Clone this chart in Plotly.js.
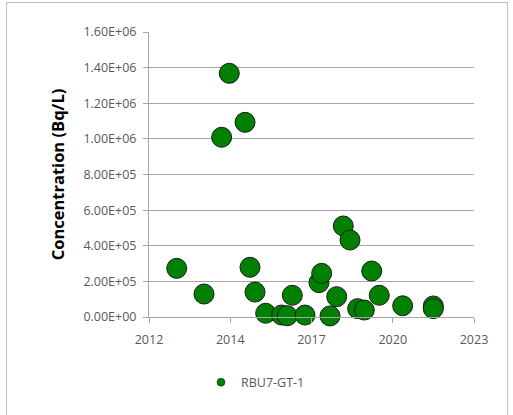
<!DOCTYPE html>
<html>
<head>
<meta charset="utf-8">
<script src="https://cdn.plot.ly/plotly-3.0.1.min.js"></script>
<style>
  html, body { margin: 0; padding: 0; background: #ffffff; }
  #chart { position: absolute; left: 6px; top: 2px; width: 500px; height: 420px; border: 1px solid #bfbfbf; }
</style>
</head>
<body>
<div id="chart"></div>
<script>
// Sample dates and concentrations (Bq/L) for RBU7-GT-1
const sampleDates = [
  "2013-03-08", "2014-02-07", "2014-09-12", "2014-12-15", "2015-06-27",
  "2015-08-27", "2015-10-28", "2016-03-07", "2016-09-20", "2016-11-28",
  "2017-01-29", "2017-07-04", "2017-12-23", "2018-01-25", "2018-05-08",
  "2018-07-29", "2018-10-18", "2019-01-09", "2019-04-13", "2019-07-04",
  "2019-10-03", "2020-01-04", "2020-10-18", "2021-10-30", "2021-10-30"
];
const concentrations = [
  273000, 129000, 1009000, 1368000, 1093000,
  279000, 140000, 21000, 11000, 7000,
  122000, 11000, 193000, 245000, 6000,
  114000, 511000, 432000, 47000, 39000,
  258000, 122000, 63000, 62000, 47000
];
const seriesName = "RBU7-GT-1";

// Axis ticks (Excel date axis with 1000-day major unit)
const xTickDates = ["2012-04-01", "2014-12-27", "2017-09-22", "2020-06-18", "2023-03-15"];
const xTickLabels = ["2012", "2014", "2017", "2020", "2023"];
const yTickValues = [0, 200000, 400000, 600000, 800000, 1000000, 1200000, 1400000, 1600000];
const yTickLabels = ["0.00E+00", "2.00E+05", "4.00E+05", "6.00E+05", "8.00E+05",
                     "1.00E+06", "1.20E+06", "1.40E+06", "1.60E+06"];

const green = "#008000";
const tickFont = { family: "Open Sans, sans-serif", size: 12.5, color: "#595959" };

const traces = [
  {
    type: "scatter", mode: "markers",
    x: sampleDates, y: concentrations,
    name: seriesName, showlegend: false,
    marker: { color: green, size: 20, line: { color: "#1a1a1a", width: 1 } },
    cliponaxis: false
  },
  {
    type: "scatter", mode: "markers",
    x: [null], y: [null],
    name: seriesName, showlegend: true,
    marker: { color: green, size: 8, line: { color: "#1a1a1a", width: 0.5 } }
  }
];

const layout = {
  width: 500, height: 420,
  margin: { l: 142, r: 33, t: 29, b: 106 },
  paper_bgcolor: "#ffffff", plot_bgcolor: "#ffffff",
  showlegend: true,
  legend: {
    orientation: "h", x: 0.16, xanchor: "left", y: -0.23, yanchor: "middle",
    font: { family: "Open Sans, sans-serif", size: 12.5, color: "#595959" },
    itemwidth: 30, tracegroupgap: 0
  },
  xaxis: {
    type: "date",
    range: [xTickDates[0], xTickDates[xTickDates.length - 1]],
    tickmode: "array", tickvals: xTickDates, ticktext: xTickLabels,
    showgrid: false, zeroline: false,
    showline: true, linecolor: "#a6a6a6", linewidth: 1,
    ticks: "outside", ticklen: 5, tickcolor: "#a6a6a6",
    ticklabelstandoff: 6,
    tickfont: tickFont
  },
  yaxis: {
    range: [0, 1600000],
    tickmode: "array", tickvals: yTickValues, ticktext: yTickLabels,
    showgrid: true, gridcolor: "#a6a6a6", gridwidth: 1,
    zeroline: false,
    showline: true, linecolor: "#a6a6a6", linewidth: 1,
    ticks: "outside", ticklen: 5, tickcolor: "#a6a6a6",
    ticklabelstandoff: 4,
    tickfont: tickFont,
    title: { text: "Concentration (Bq/L)", font: { family: "Open Sans, sans-serif", size: 16.5, color: "#000000", weight: "bold" }, standoff: 14 }
  }
};

Plotly.newPlot("chart", traces, layout, { staticPlot: true, displayModeBar: false });
</script>
</body>
</html>
